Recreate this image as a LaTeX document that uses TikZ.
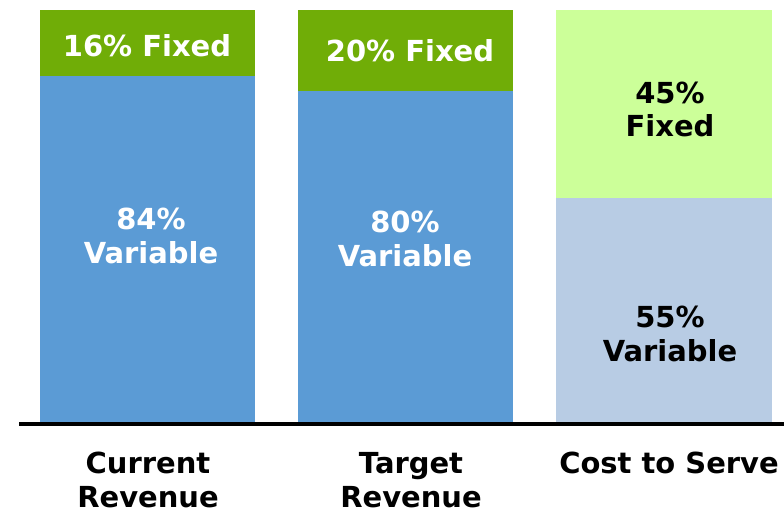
\documentclass[tikz,border=0pt]{standalone}
\usepackage{fontspec}
\setmainfont{DejaVu Sans}
\usetikzlibrary{positioning}
\definecolor{fixgreen}{RGB}{112,173,7}
\definecolor{varblue}{RGB}{91,155,213}
\definecolor{costgreen}{RGB}{204,255,153}
\definecolor{costblue}{RGB}{184,204,228}
\begin{document}
\begin{tikzpicture}[x=0.025cm, y=-0.025cm,
	pct/.style={font=\bfseries\fontsize{20.6pt}{23.8pt}\selectfont, align=center, anchor=base, inner sep=0pt}]
	\useasboundingbox (0,0) rectangle (784,512);
	% current revenue
	\fill[fixgreen] (40,10) rectangle (255,76);
	\fill[varblue] (40,76) rectangle (255,422);
	\node[pct, white] (curfix) at (147,57) {16\% Fixed};
	\node[pct, white] (curvar) at (151,263) {84\%\\Variable};
	% target revenue
	\fill[fixgreen] (298,10) rectangle (513,91);
	\fill[varblue] (298,91) rectangle (513,422);
	\node[pct, white] (tgtfix) at (410,62) {20\% Fixed};
	\node[pct, white] (tgtvar) at (405,266) {80\%\\Variable};
	% cost to serve
	\fill[costgreen] (556,10) rectangle (772,198);
	\fill[costblue] (556,198) rectangle (772,422);
	\node[pct] (costfix) at (670,137) {45\%\\Fixed};
	\node[pct] (costvar) at (670,361) {55\%\\Variable};
	% axis and names
	\draw[line width=2.5pt] (19,424) -- (784,424);
	\node[pct] (curname) at (148,507) {Current\\Revenue};
	\node[pct] (tgtname) at (411,507) {Target\\Revenue};
	\node[pct] (costname) at (669,473) {Cost to Serve};
\end{tikzpicture}
\end{document}
